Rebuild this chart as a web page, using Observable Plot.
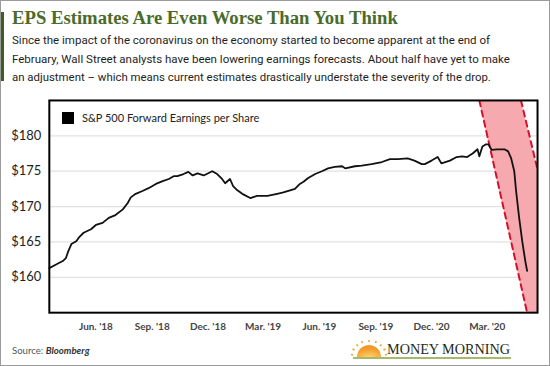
<!DOCTYPE html>
<html><head><meta charset="utf-8">
<script src="https://cdn.jsdelivr.net/npm/d3@7"></script>
<script src="https://cdn.jsdelivr.net/npm/@observablehq/plot@0.6"></script>
<style>
body{margin:0;background:#fff;}
#wrap{position:relative;width:550px;height:366px;box-sizing:border-box;border:1px solid #9b9b9b;overflow:hidden;font-family:Lato,"Open Sans",sans-serif;color:#222;}
#bar{position:absolute;left:0;top:11px;width:3px;height:69px;background:#3f5f22;}
#title{position:absolute;left:11px;top:6px;font-family:"Liberation Serif",serif;font-weight:bold;font-size:19px;color:#4a6b2a;white-space:nowrap;}
#sub{position:absolute;left:11px;top:30px;font-family:Roboto,Lato,sans-serif;font-size:12.3px;line-height:18.7px;color:#1e1e1e;}
#sub span{white-space:nowrap;display:inline-block;}
#chart{position:absolute;left:-1px;top:89px;}
#legend{position:absolute;left:61px;top:110px;display:flex;align-items:center;font-size:11px;color:#222;}
#legend span.sw{display:inline-block;width:12px;height:12px;background:#000;margin-right:8px;}
#source{position:absolute;left:11px;top:344px;font-size:9.6px;color:#555;}
#source b{font-style:italic;color:#333;}
#logo{position:absolute;left:350px;top:337px;}
#logotext{position:absolute;left:386px;top:340px;font-family:"Liberation Serif",serif;font-size:15px;color:#1f2a1a;white-space:nowrap;}
#uline{position:absolute;left:352px;top:356px;width:158px;height:2px;background:#a6b86a;}
</style></head>
<body>
<div id="wrap">
  <div id="bar"></div>
  <div id="title"><span>EPS Estimates Are Even Worse Than You Think</span></div>
  <div id="sub">
    <span data-w="478">Since the impact of the coronavirus on the economy started to become apparent at the end of</span><br>
    <span data-w="498">February, Wall Street analysts have been lowering earnings forecasts. About half have yet to make</span><br>
    <span data-w="479">an adjustment – which means current estimates drastically understate the severity of the drop.</span>
  </div>
  <div id="chart"></div>
  <div id="legend"><span class="sw"></span>S&amp;P 500 Forward Earnings per Share</div>
  <div id="source">Source: <b>Bloomberg</b></div>
  <svg id="logo" width="36" height="20" viewBox="0 0 36 20">
    <defs><radialGradient id="sg" cx="50%" cy="100%" r="70%"><stop offset="0" stop-color="#fbd36b"/><stop offset="1" stop-color="#f39a2a"/></radialGradient></defs>
    <path d="M6,19 A12,12 0 0 1 30,19 Z" fill="url(#sg)"/>
    <g stroke="#e9a43a" stroke-width="1.6">
      <line x1="2" y1="17" x2="0" y2="16.5"/><line x1="3.5" y1="12" x2="1.5" y2="11"/><line x1="7" y1="8" x2="5.5" y2="6.5"/><line x1="11.5" y1="5" x2="10.8" y2="3"/><line x1="18" y1="4" x2="18" y2="2"/><line x1="24.5" y1="5" x2="25.2" y2="3"/><line x1="29" y1="8" x2="30.5" y2="6.5"/><line x1="32.5" y1="12" x2="34.5" y2="11"/><line x1="34" y1="17" x2="36" y2="16.5"/>
    </g>
  </svg>
  <div id="logotext"><span>MONEY MORNING</span></div>
  <div id="uline"></div>
</div>
<script>
const dates = ["2018-03-17","2018-03-28","2018-04-08","2018-04-13","2018-04-17","2018-04-22","2018-04-30","2018-05-04","2018-05-12","2018-05-24",
"2018-06-01","2018-06-12","2018-06-22","2018-07-03","2018-07-15","2018-07-23","2018-07-28","2018-08-05","2018-08-16","2018-08-26",
"2018-09-07","2018-09-18","2018-09-28","2018-10-06","2018-10-12","2018-10-22","2018-10-30","2018-11-06","2018-11-14","2018-11-24",
"2018-12-08","2018-12-16","2018-12-24","2018-12-29","2019-01-06","2019-01-11","2019-01-18","2019-01-26","2019-02-08","2019-02-19",
"2019-03-08","2019-03-24","2019-04-03","2019-04-14","2019-04-22","2019-04-30","2019-05-06","2019-05-13","2019-05-25","2019-06-05",
"2019-06-15","2019-06-26","2019-07-08","2019-07-13","2019-07-29","2019-08-09","2019-08-25","2019-09-11","2019-09-24","2019-10-07",
"2019-10-23","2019-11-03","2019-11-15","2019-11-20","2019-12-01","2019-12-11","2019-12-17","2019-12-31","2020-01-11","2020-01-20",
"2020-01-28","2020-02-06","2020-02-14","2020-02-17","2020-02-22","2020-02-28","2020-03-03","2020-03-08","2020-03-17","2020-03-29",
"2020-04-04","2020-04-09","2020-04-14","2020-04-17","2020-04-22","2020-04-27","2020-05-02","2020-05-05"];
const values = [161.3,161.8,162.3,162.7,163.7,164.7,165.1,165.6,166.3,166.8,
167.4,167.7,168.4,168.8,169.6,170.5,171.3,171.8,172.2,172.6,
173.2,173.6,173.9,174.3,174.3,174.6,174.9,174.4,174.7,174.4,
175.0,174.6,173.9,173.3,173.9,172.9,172.3,171.8,171.2,171.5,
171.5,171.8,172.0,172.3,172.5,173.2,173.5,174.0,174.6,175.0,
175.4,175.6,175.7,175.4,175.7,175.8,176.0,176.3,176.7,176.7,
176.8,176.5,176.0,176.0,176.5,177.0,176.1,176.5,177.0,177.1,
177.0,177.5,178.1,177.1,178.5,178.8,178.8,178.0,178.1,178.1,
177.8,176.8,175.0,172.2,168.4,165.1,162.3,160.9];
const yTicks = [160,165,170,175,180];
const xTickDates = ["2018-06-01","2018-09-01","2018-12-01","2019-03-01","2019-06-01","2019-09-01","2019-12-01","2020-03-01"];
const xTickLabels = ["Jun. '18","Sep. '18","Dec. '18","Mar. '19","Jun. '19","Sep. '19","Dec. '20","Mar. '20"];
// estimate-drop band: value level, left edge date, right edge date
const bandValues = [185,155];
const bandLeft = ["2020-02-17","2020-05-05"];
const bandRight = ["2020-04-25","2020-07-17"];

// fit text widths to the reference
function fit(el, w){ const cs = parseFloat(getComputedStyle(el).fontSize); const cur = el.getBoundingClientRect().width; el.style.fontSize = (cs*w/cur).toFixed(2)+"px"; }
document.querySelectorAll("#sub span").forEach(s=>fit(s, +s.dataset.w));
fit(document.querySelector("#title span"), 386);
fit(document.querySelector("#logotext span"), 123);

const P = d3.utcParse("%Y-%m-%d");
const series = dates.map((d,i)=>({date:P(d), value:values[i]}));
const band = bandValues.map((v,i)=>({v, x1:P(bandLeft[i]), x2:P(bandRight[i])}));
const tickDates = xTickDates.map(P);
const labelOf = new Map(tickDates.map((d,i)=>[+d, xTickLabels[i]]));

const chart = Plot.plot({
  width:551, height:252,
  marginTop:10, marginLeft:49, marginRight:12, marginBottom:29,
  style:{fontFamily:"Lato, 'Open Sans', sans-serif", background:"transparent"},
  x:{type:"utc", domain:[P("2018-03-17"), P("2020-05-22")]},
  y:{domain:[155,185]},
  marks:[
    Plot.ruleY(yTicks,{stroke:"#e2e2e2", strokeWidth:1.2}),
    Plot.areaX(band,{y:"v", x1:"x1", x2:"x2", fill:"#f6a9ae", fillOpacity:1, clip:true}),
    Plot.line(band,{x:"x1", y:"v", stroke:"#d4112b", strokeWidth:2, strokeDasharray:"6,4.5", clip:true}),
    Plot.line(band,{x:"x2", y:"v", stroke:"#d4112b", strokeWidth:2, strokeDasharray:"6,4.5", clip:true}),
    Plot.line(series,{x:"date", y:"value", stroke:"#111", strokeWidth:1.8, strokeLinejoin:"round"}),
    Plot.axisY({ticks:yTicks, tickSize:0, tickPadding:8, tickFormat:d=>"$"+d, fontSize:13, fill:"#222"}),
    Plot.axisX({ticks:tickDates, tickSize:0, tickPadding:10, tickFormat:d=>labelOf.get(+d), fontSize:10, fontWeight:"bold", fill:"#444", label:null}),
    Plot.frame({stroke:"#000", strokeWidth:2})
  ]
});
document.getElementById("chart").append(chart);
</script>
</body></html>
